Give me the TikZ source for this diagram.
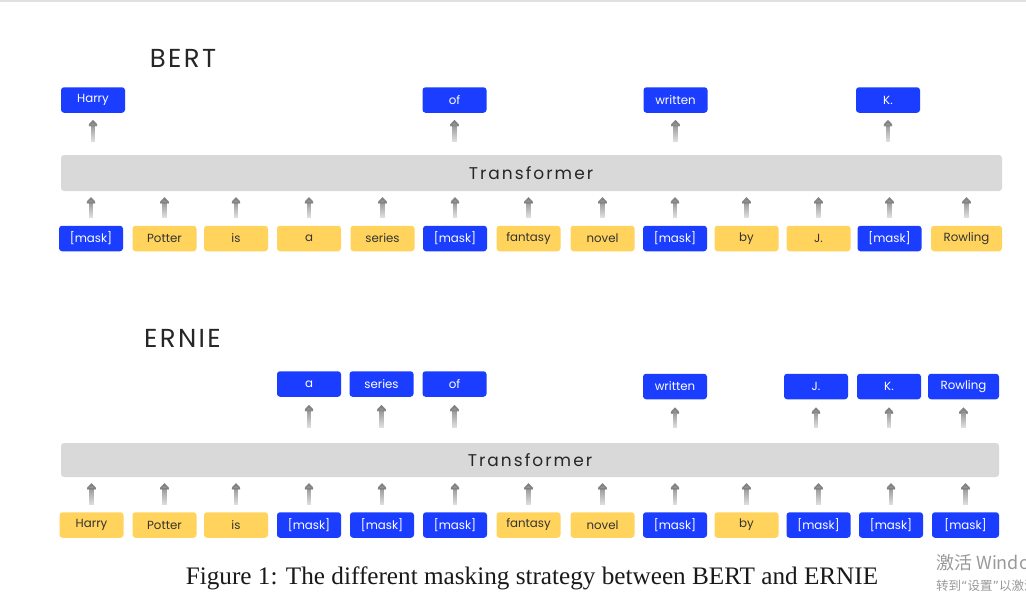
\documentclass[tikz,border=0pt]{standalone}
\usepackage{fontspec}
\setmainfont{Liberation Serif}
\newfontfamily\gothic{Poppins}
\newfontfamily\gothicsp[LetterSpace=12]{Poppins}
\newfontfamily\gothicti[LetterSpace=9]{Poppins}
\newfontfamily\cjk{Noto Sans CJK SC}
\newfontfamily\quotefont{DejaVu Sans}
\usetikzlibrary{arrows.meta,fadings}
\tikzfading[name=fadedown, top color=transparent!0, bottom color=transparent!85]
\definecolor{mblue}{HTML}{1A3DFF}
\definecolor{myel}{HTML}{FFD35C}
\definecolor{barcol}{HTML}{D9D9D9}
\tikzset{
  tok/.style={rounded corners=3pt, minimum width=64pt, minimum height=25.5pt, inner sep=0pt,
              font=\gothic\fontsize{11.8}{11.8}\selectfont},
  blu/.style={tok, fill=mblue, text=white},
  yel/.style={tok, fill=myel, text=black!80},
  barbox/.style={rounded corners=3pt, fill=barcol, inner sep=0pt},
  bartext/.style={font=\gothicsp\fontsize{17}{17}\selectfont, text=black!85},
  titletext/.style={font=\gothicti\fontsize{26}{26}\selectfont, text=black!85},
  upar/.style={line width=4.2pt, draw=black!52, -{Triangle[width=13pt,length=6.5pt]}, path fading=fadedown},
}
\begin{document}
\begin{tikzpicture}[x=1pt,y=-1pt]
\useasboundingbox (0,0) rectangle (1026,600);
\clip (0,0) rectangle (1026,600);
\fill[black!12] (0,0) rectangle (1026,1.5);

% ---------- BERT ----------
\node[titletext] (t1) at (183,58) {BERT};
\node[barbox, minimum width=941pt, minimum height=36pt] (bar1) at (531.5,173) {};
\node[bartext] (bar1t) at (531,173) {Transformer};

\foreach \n/\x/\s/\t in {1/91/blu/{[mask]},2/164.5/yel/Potter,3/236/yel/is,4/309/yel/a,5/382.5/yel/series,
   6/455/blu/{[mask]},7/528.5/yel/fantasy,8/602.5/yel/novel,9/675/blu/{[mask]},10/746.5/yel/by,
   11/818.5/yel/J.,12/889.5/blu/{[mask]}}
  \node[\s] (bb\n) at (\x,238.5) {\t};
\node[yel, minimum width=71pt] (bb13) at (966.5,238.5) {Rowling};

\foreach \n in {1,...,13}
  \draw[upar] ([yshift=8pt]bb\n.north) -- ([yshift=-6pt]bb\n.north |- bar1.south);

\node[blu] (bt1) at (93,100) {Harry};
\node[blu] (bt6) at (454.5,100) {of};
\node[blu] (bt9) at (675.5,100) {written};
\node[blu] (bt12) at (888,100) {K.};
\foreach \n in {1,6,9,12}
  \draw[upar] ([yshift=13pt]bt\n.south |- bar1.north) -- ([yshift=-7pt]bt\n.south);

% ---------- ERNIE ----------
\node[titletext] (t2) at (182.5,338) {ERNIE};
\node[barbox, minimum width=938pt, minimum height=34pt] (bar2) at (530,460) {};
\node[bartext] (bar2t) at (530,460) {Transformer};

\foreach \n/\x/\s/\t in {1/91.5/yel/Harry,2/164.5/yel/Potter,3/236/yel/is,4/309/blu/{[mask]},5/382/blu/{[mask]},
   6/455/blu/{[mask]},7/528.5/yel/fantasy,8/602.5/yel/novel,9/675/blu/{[mask]},10/746.5/yel/by,
   11/818.5/blu/{[mask]},12/891/blu/{[mask]}}
  \node[\s] (eb\n) at (\x,525) {\t};
\node[blu, minimum width=67pt] (eb13) at (965.5,525) {[mask]};

\foreach \n in {1,...,13}
  \draw[upar] ([yshift=7pt]eb\n.north) -- ([yshift=-6pt]eb\n.north |- bar2.south);

\node[blu] (et4) at (309,384) {a};
\node[blu] (et5) at (381.5,384) {series};
\node[blu] (et6) at (454.5,384) {of};
\node[blu] (et9) at (675,386.5) {written};
\node[blu] (et11) at (816,386.5) {J.};
\node[blu] (et12) at (889,386.5) {K.};
\node[blu, minimum width=71pt] (et13) at (963.5,386.5) {Rowling};
\foreach \n in {4,5,6,9,11,12,13}
  \draw[upar] ([yshift=15pt]et\n.south |- bar2.north) -- ([yshift=-8pt]et\n.south);

% ---------- caption ----------
\node[font=\fontsize{25.2}{25.2}\selectfont, text=black!90] (cap) at (532,578)
  {Figure 1: The different masking strategy between BERT and ERNIE};

% ---------- watermark ----------
\node[anchor=west, inner sep=0pt, text=black!40, font=\cjk\fontsize{18}{18}\selectfont] (wm1) at (936,563) {激活 Windows};
\node[anchor=west, inner sep=0pt, text=black!40, font=\cjk\fontsize{12.5}{12.5}\selectfont] (wm2) at (936,586)
  {转到{\quotefont “}设置{\quotefont ”}以激活 Windows。};
\end{tikzpicture}
\end{document}
